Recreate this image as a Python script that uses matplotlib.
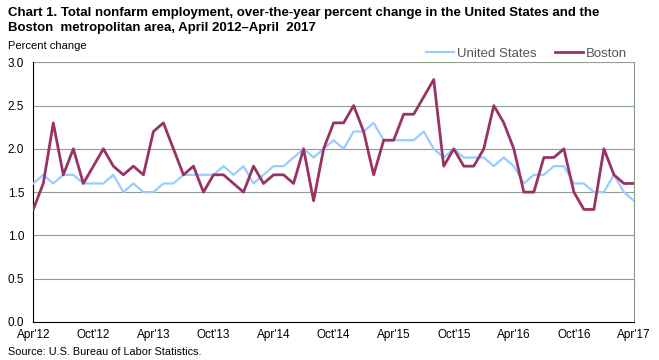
import numpy as np
import matplotlib
matplotlib.use("Agg")
import matplotlib.pyplot as plt

plt.rcParams['font.family'] = ['Liberation Sans', 'DejaVu Sans']

# datos mensuales, abril 2012 a abril 2017
us = [1.6, 1.7, 1.6, 1.7, 1.7, 1.6, 1.6, 1.6, 1.7, 1.5, 1.6, 1.5,
      1.5, 1.6, 1.6, 1.7, 1.7, 1.7, 1.7, 1.8, 1.7, 1.8, 1.6, 1.7,
      1.8, 1.8, 1.9, 2.0, 1.9, 2.0, 2.1, 2.0, 2.2, 2.2, 2.3, 2.1,
      2.1, 2.1, 2.1, 2.2, 2.0, 1.9, 2.0, 1.9, 1.9, 1.9, 1.8, 1.9,
      1.8, 1.6, 1.7, 1.7, 1.8, 1.8, 1.6, 1.6, 1.5, 1.5, 1.7, 1.5, 1.4]
boston = [1.3, 1.6, 2.3, 1.7, 2.0, 1.6, 1.8, 2.0, 1.8, 1.7, 1.8, 1.7,
          2.2, 2.3, 2.0, 1.7, 1.8, 1.5, 1.7, 1.7, 1.6, 1.5, 1.8, 1.6,
          1.7, 1.7, 1.6, 2.0, 1.4, 2.0, 2.3, 2.3, 2.5, 2.2, 1.7, 2.1,
          2.1, 2.4, 2.4, 2.6, 2.8, 1.8, 2.0, 1.8, 1.8, 2.0, 2.5, 2.3,
          2.0, 1.5, 1.5, 1.9, 1.9, 2.0, 1.5, 1.3, 1.3, 2.0, 1.7, 1.6, 1.6]
etiquetas_x = ["Apr'12", "Oct'12", "Apr'13", "Oct'13", "Apr'14", "Oct'14",
               "Apr'15", "Oct'15", "Apr'16", "Oct'16", "Apr'17"]
valores_y = [0.0, 0.5, 1.0, 1.5, 2.0, 2.5, 3.0]

meses = np.arange(len(us))

fig = plt.figure(figsize=(6.59, 3.6), dpi=100)
ax = fig.add_axes([0.0505, 0.1056, 0.9115, 0.7214])

# lineas horizontales de la cuadricula
for v in valores_y[1:]:
    ax.axhline(v, color='#909f8c', lw=0.8, zorder=1)

ax.plot(meses, us, color='#99ccff', lw=1.6, label='United States', zorder=3)
ax.plot(meses, boston, color='#993366', lw=2.0, label='Boston', zorder=4)

ax.set_xlim(0, len(us) - 1)
ax.set_ylim(0, 3.0)
ax.set_xticks(np.arange(0, len(us), 6))
ax.set_xticklabels(etiquetas_x)
ax.set_yticks(valores_y)
ax.set_yticklabels([f'{v:.1f}' for v in valores_y])
ax.tick_params(axis='both', length=0, labelsize=8.5, colors='#000000')
ax.tick_params(axis='x', pad=5)
ax.tick_params(axis='y', pad=6.5)

ax.spines['top'].set_visible(False)
ax.spines['right'].set_color('#8a9a8a')
ax.spines['right'].set_linewidth(0.8)
ax.spines['left'].set_color('black')
ax.spines['bottom'].set_color('black')

ax.legend(loc='center left', bbox_to_anchor=(0.6535, 1.032), ncol=2, frameon=False,
          fontsize=9.5, handlelength=2.1, handletextpad=0.25, columnspacing=1.4,
          borderaxespad=0, borderpad=0, labelcolor='#555555')

fig.text(0.012, 0.943, 'Chart 1. Total nonfarm employment, over-the-year percent change in the United States and the\n'
         'Boston  metropolitan area, April 2012\u2013April  2017',
         fontsize=9.5, fontweight='bold', va='center', ha='left', linespacing=1.3)
fig.text(0.012, 0.872, 'Percent change', fontsize=8, va='center', ha='left')
fig.text(0.012, 0.022, 'Source: U.S. Bureau of Labor Statistics.', fontsize=7.8, va='center', ha='left')

fig.savefig('out.png', dpi=100)
